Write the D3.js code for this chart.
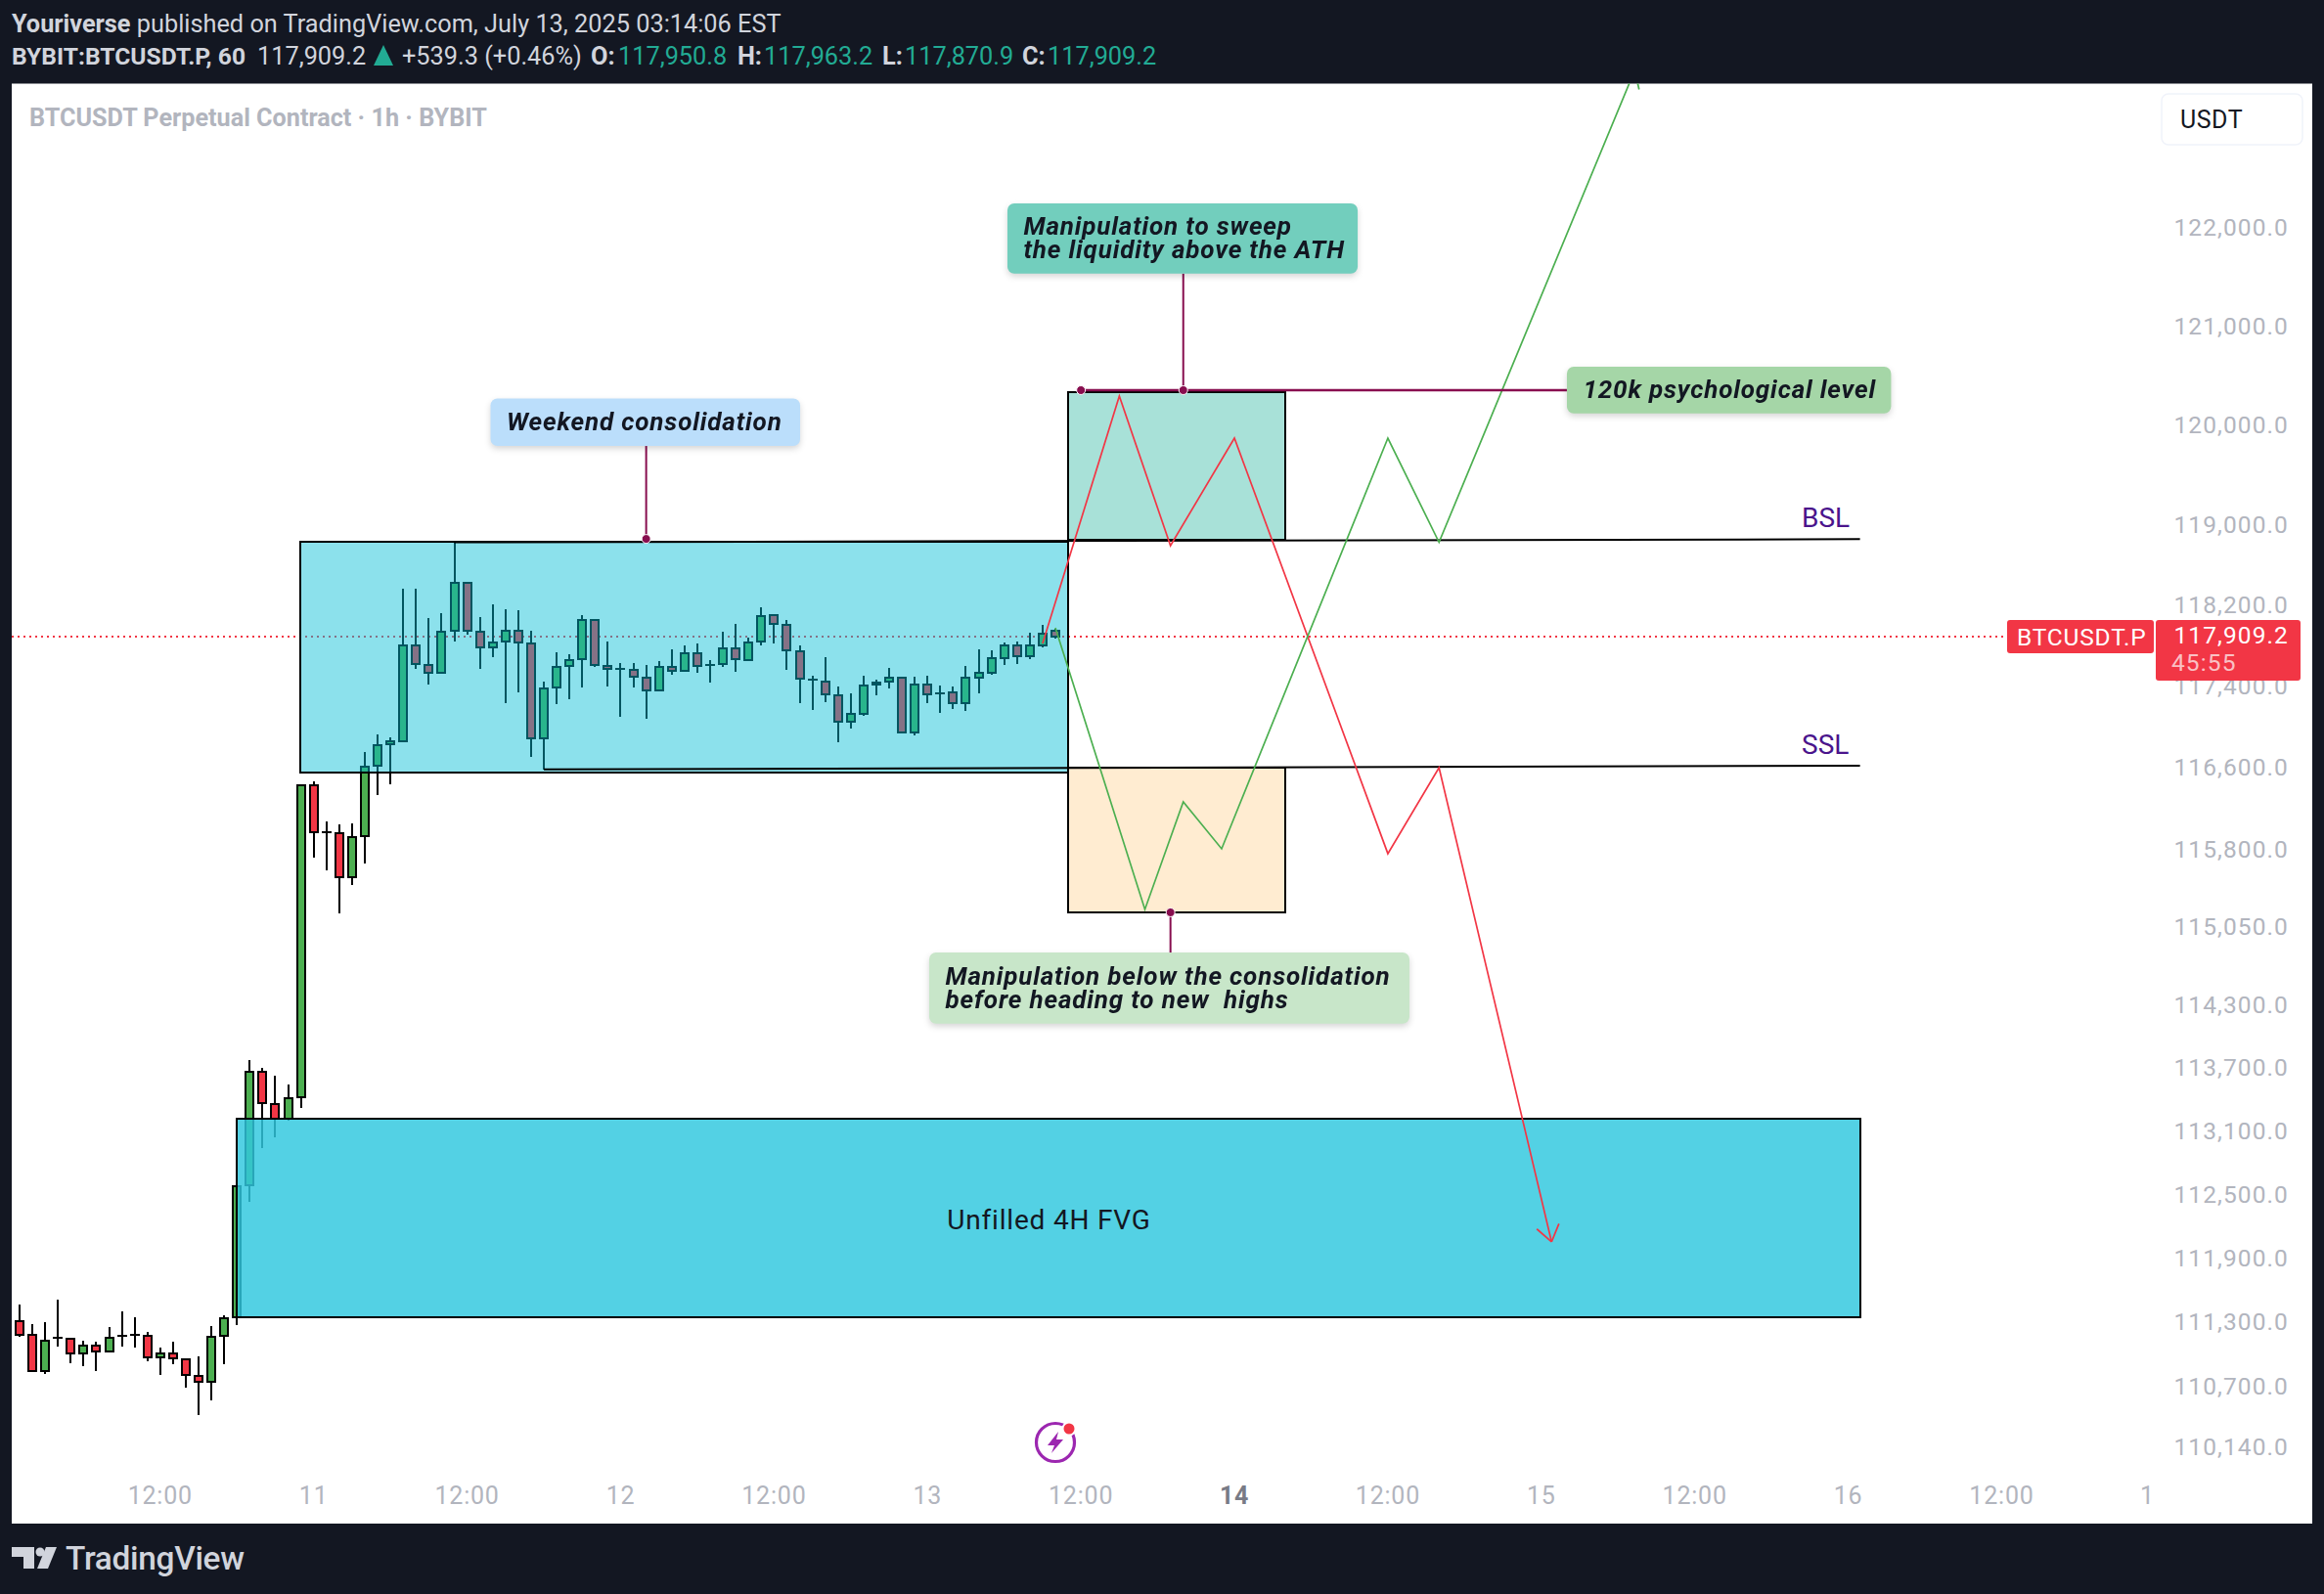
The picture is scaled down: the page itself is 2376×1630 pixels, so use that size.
<!DOCTYPE html>
<html>
<head>
<meta charset="utf-8">
<script src="https://cdn.jsdelivr.net/npm/d3@7"></script>
<style>
  html, body { margin: 0; padding: 0; background: #131722; }
  svg { display: block; font-family: Roboto, sans-serif; }
  text { white-space: pre; }
  .callout { filter: drop-shadow(0 3px 3px rgba(0,0,0,0.16)); }
</style>
</head>
<body>
<svg id="Chart" width="2376" height="1630"></svg>
<script>
// candles, one per hour, first one is hour 0
var opens = [111313,111185,110841,111155,111148,111005,111084,111024,111176,111185,111176,110969,111011,110956,110801,110741,111170,111349,112583,113665,113358,113219,113418,116429,115973,115963,115532,115932,116616,116826,116855,117803,117610,117527,117943,118423,117939,117781,117837,117949,117823,116887,117382,117596,117663,118055,117600,117569,117561,117485,117356,117592,117550,117726,117604,117614,117775,117659,117837,118098,118007,117746,117462,117446,117311,117047,117129,117411,117440,117485,116941,117417,117328,117340,117235,117485,117532,117678,117804,117692,117804,117950];
var highs = [111465,111282,111301,111511,111148,111127,111118,111255,111401,111346,111209,111063,111118,110956,110981,111264,111365,112579,113775,113700,113625,113541,116429,116462,116075,116046,116056,116752,116925,116896,118362,118362,118072,118120,118829,118423,118081,118207,118159,118149,117946,117443,117733,117714,118101,118055,117839,117627,117627,117607,117646,117762,117801,117820,117656,117936,118014,117878,118178,118098,118052,117801,117501,117685,117395,117328,117501,117462,117578,117485,117491,117501,117404,117395,117598,117762,117753,117830,117839,117926,118004,117963];
var lows = [111166,110841,110819,111075,110920,110892,110846,111024,111075,111066,110938,110810,110911,110691,110436,110573,110911,111276,112432,112940,113043,113198,113321,115726,115602,115186,115460,115669,116334,116439,116855,117569,117414,117527,117842,117910,117569,117685,117232,117337,116704,116583,117222,117270,117385,117588,117395,117098,117385,117078,117356,117511,117550,117532,117433,117588,117540,117646,117801,117820,117559,117232,117165,117241,116848,116982,117107,117308,117376,116941,116915,117232,117136,117174,117155,117328,117511,117607,117617,117666,117781,117870];
var closes = [111185,110841,111130,111155,111005,111084,111024,111157,111176,111185,110969,111011,110960,110805,110741,111166,111340,112579,113665,113362,113219,113414,116429,115967,115973,115532,115925,116612,116822,116855,117803,117619,117530,117939,118423,117943,117781,117833,117949,117830,116887,117379,117592,117659,118055,117607,117569,117569,117488,117356,117592,117550,117726,117596,117604,117775,117663,117833,118094,118011,117750,117469,117462,117315,117047,117129,117407,117436,117485,116941,117417,117315,117328,117235,117485,117532,117678,117804,117692,117804,117920,117890];

var priceTicks = [122000,121000,120000,119000,118200,117400,116600,115800,115050,114300,113700,113100,112500,111900,111300,110700,110140];
var timeTickHours = [11,23,35,47,59,71,83,95,107,119,131,143,155,166.4];
var timeTickLabels = ["12:00","11","12:00","12","12:00","13","12:00","14","12:00","15","12:00","16","12:00","1"];

var redPathHours = [80,86,90,95,107,111,119.8];
var redPathPrices = [117820,120291,118790,119867,115761,116599,112052];
var greenPathHours = [81,88,91,94,107,111,126.3];
var greenPathPrices = [117975,115221,116265,115808,119867,118824,123622];

var lastPriceLevel = 117888;

var svg = d3.select("#Chart");
var x = d3.scaleLinear().domain([0, 81]).range([20, 1079]);
var y = d3.scaleLog().domain([110140, 122000]).range([1479.7, 233]);

// ---- page and pane
svg.append("rect").attr("width", 2376).attr("height", 1630).attr("fill", "#131722");
svg.append("rect").attr("x", 12).attr("y", 85.5).attr("width", 2352).attr("height", 1472.5).attr("fill", "#fff");
svg.append("clipPath").attr("id", "pane").append("rect")
  .attr("x", 12).attr("y", 85.5).attr("width", 2352).attr("height", 1472.5);

// ---- header
var head = svg.append("g");
head.append("text").attr("x", 12).attr("y", 33).attr("font-size", 25.3).attr("fill", "#d1d4dc")
  .html('<tspan font-weight="700">Youriverse</tspan> published on TradingView.com, July 13, 2025 03:14:06 EST');
var headerBits = [
  ["BYBIT:BTCUSDT.P, 60", 12, "#d1d4dc", 700, 24.6],
  ["117,909.2", 263, "#d1d4dc", 400, 25.3],
  ["+539.3 (+0.46%)", 411, "#d1d4dc", 400, 25.3],
  ["O:", 604, "#d1d4dc", 700, 25.3], ["117,950.8", 632, "#22ab94", 400, 25.3],
  ["H:", 754, "#d1d4dc", 700, 25.3], ["117,963.2", 781, "#22ab94", 400, 25.3],
  ["L:", 902, "#d1d4dc", 700, 25.3], ["117,870.9", 925, "#22ab94", 400, 25.3],
  ["C:", 1045, "#d1d4dc", 700, 25.3], ["117,909.2", 1071, "#22ab94", 400, 25.3]
];
headerBits.forEach(function (b) {
  head.append("text").attr("x", b[1]).attr("y", 66).attr("font-size", b[4])
    .attr("fill", b[2]).attr("font-weight", b[3]).text(b[0]);
});
head.append("path").attr("d", "M392 46 L402 67 L382 67 Z").attr("fill", "#22ab94");

svg.append("text").attr("x", 30).attr("y", 129).attr("font-size", 25.2).attr("font-weight", 700)
  .attr("fill", "#b2b5be").text("BTCUSDT Perpetual Contract \u00b7 1h \u00b7 BYBIT");

// ---- price line under the boxes
svg.append("line").attr("x1", 12).attr("x2", 2050)
  .attr("y1", y(lastPriceLevel)).attr("y2", y(lastPriceLevel))
  .attr("stroke", "#f23645").attr("stroke-width", 2).attr("stroke-dasharray", "2 4");

// ---- candles
var candles = d3.range(opens.length).map(function (i) {
  return { i: i, o: opens[i], h: highs[i], l: lows[i], c: closes[i] };
});
var candleG = svg.append("g").attr("shape-rendering", "crispEdges");
candleG.selectAll("line").data(candles).join("line")
  .attr("x1", function (d) { return x(d.i); }).attr("x2", function (d) { return x(d.i); })
  .attr("y1", function (d) { return y(d.h); }).attr("y2", function (d) { return y(d.l); })
  .attr("stroke", "#000").attr("stroke-width", 2);
candleG.selectAll("rect").data(candles).join("rect")
  .attr("x", function (d) { return x(d.i) - 4; })
  .attr("width", 8)
  .attr("y", function (d) { return y(Math.max(d.o, d.c)); })
  .attr("height", function (d) { return Math.max(0.01, Math.abs(y(d.o) - y(d.c))); })
  .attr("fill", function (d) { return d.c >= d.o ? "#4caf50" : "#f23645"; })
  .attr("stroke", "#000").attr("stroke-width", 2);

// ---- boxes, drawn over the candles
var boxHours0 = [21.93, 82, 82, 17];
var boxHours1 = [82, 99, 99, 143.92];
var boxTop = [118829, 120333, 116600, 113216];
var boxBottom = [116551, 118851, 115192, 111349];
var boxFill = ["#00bcd4", "#26b49e", "#ff9800", "#30c8de"];
var boxAlpha = [0.45, 0.4, 0.18, 0.83];
var boxG = svg.append("g").attr("shape-rendering", "crispEdges");
boxTop.forEach(function (t, i) {
  boxG.append("rect")
    .attr("x", x(boxHours0[i])).attr("width", x(boxHours1[i]) - x(boxHours0[i]))
    .attr("y", y(t)).attr("height", y(boxBottom[i]) - y(t))
    .attr("fill", boxFill[i]).attr("fill-opacity", boxAlpha[i])
    .attr("stroke", "#000").attr("stroke-width", 2);
});

// BSL / SSL
var levelG = svg.append("g").attr("stroke", "#000").attr("stroke-width", 2);
levelG.append("line").attr("x1", x(34)).attr("x2", x(143.92)).attr("y1", y(118824)).attr("y2", y(118855));
levelG.append("line").attr("x1", x(41)).attr("x2", x(143.92)).attr("y1", y(116581)).attr("y2", y(116618));
svg.append("text").attr("x", 1842).attr("y", 539).attr("font-size", 28).attr("fill", "#4a148c").text("BSL");
svg.append("text").attr("x", 1842).attr("y", 771).attr("font-size", 28).attr("fill", "#4a148c").text("SSL");

svg.append("text").attr("x", x(80.5)).attr("y", y(112240)).attr("text-anchor", "middle")
  .attr("dominant-baseline", "middle").attr("font-size", 28).attr("letter-spacing", 0.8)
  .attr("fill", "#131722").text("Unfilled 4H FVG");

// ---- projected paths
var pathG = svg.append("g").attr("clip-path", "url(#pane)");
var pathLine = d3.line().x(function (d) { return x(d[0]); }).y(function (d) { return y(d[1]); });
function drawPath(hours, prices, color) {
  var pts = d3.zip(hours, prices);
  pathG.append("path").attr("d", pathLine(pts)).attr("fill", "none")
    .attr("stroke", color).attr("stroke-width", 1.7);
  var a = pts[pts.length - 2], b = pts[pts.length - 1];
  var ang = Math.atan2(y(b[1]) - y(a[1]), x(b[0]) - x(a[0]));
  [-0.62, 0.62].forEach(function (da) {
    pathG.append("line")
      .attr("x1", x(b[0])).attr("y1", y(b[1]))
      .attr("x2", x(b[0]) - 20 * Math.cos(ang + da)).attr("y2", y(b[1]) - 20 * Math.sin(ang + da))
      .attr("stroke", color).attr("stroke-width", 1.7);
  });
}
drawPath(redPathHours, redPathPrices, "#f23645");
drawPath(greenPathHours, greenPathPrices, "#4caf50");

// ---- callouts
var calloutLines = [
  ["Weekend consolidation"],
  ["Manipulation to sweep", "the liquidity above the ATH"],
  ["120k psychological level"],
  ["Manipulation below the consolidation", "before heading to new  highs"]
];
var calloutHour0 = [36.83, 77.25, 121, 71.13];
var calloutHour1 = [61.04, 104.64, 146.35, 108.69];
var calloutTop = [120266, 122250, 120587, 114805];
var calloutBottom = [119788, 121533, 120116, 114121];
var calloutFill = ["#bbdefb", "#72cebd", "#a5d6a7", "#c8e6c9"];

// connectors: hour, price from, price to
var connectorHours = [49, 91, 90];
var connectorFrom = [119788, 121533, 114805];
var connectorTo = [118858, 120350, 115192];
var connG = svg.append("g");
connectorHours.forEach(function (h, i) {
  connG.append("line").attr("x1", x(h)).attr("x2", x(h))
    .attr("y1", y(connectorFrom[i])).attr("y2", y(connectorTo[i]))
    .attr("stroke", "#880e4f").attr("stroke-width", 2);
});
connG.append("line").attr("x1", x(83)).attr("x2", x(121))
  .attr("y1", y(120350)).attr("y2", y(120350))
  .attr("stroke", "#880e4f").attr("stroke-width", 2.5);
[[49, 118858], [91, 120350], [83, 120350], [90, 115192]].forEach(function (p) {
  connG.append("circle").attr("cx", x(p[0])).attr("cy", y(p[1])).attr("r", 4.5)
    .attr("fill", "#880e4f").attr("stroke", "#fff").attr("stroke-width", 1);
});

calloutLines.forEach(function (lines, i) {
  var g = svg.append("g").attr("class", "callout");
  var x0 = x(calloutHour0[i]), x1 = x(calloutHour1[i]);
  var y0 = y(calloutTop[i]), y1 = y(calloutBottom[i]);
  g.append("rect").attr("x", x0).attr("y", y0).attr("width", x1 - x0).attr("height", y1 - y0)
    .attr("rx", 7).attr("fill", calloutFill[i]);
  var mid = (y0 + y1) / 2 + 1.5;
  lines.forEach(function (t, k) {
    g.append("text")
      .attr("x", x0 + 16.5)
      .attr("y", mid + (k - (lines.length - 1) / 2) * 24)
      .attr("dominant-baseline", "middle")
      .attr("font-size", 26).attr("font-weight", 700).attr("font-style", "italic")
      .attr("letter-spacing", 0.85).attr("fill", "#131722").text(t);
  });
});

// ---- axes
var priceAxis = d3.axisRight(y).tickValues(priceTicks).tickSize(0).tickFormat(d3.format(",.1f"));
var yAxisG = svg.append("g").attr("transform", "translate(2214,0)").call(priceAxis);
yAxisG.select(".domain").remove();
yAxisG.selectAll("text").attr("x", 126).attr("text-anchor", "end")
  .attr("font-size", 24.5).attr("letter-spacing", 1.1).attr("font-family", "Roboto")
  .attr("fill", "#b2b5be");

var timeG = svg.append("g");
timeTickHours.forEach(function (h, i) {
  var bold = timeTickLabels[i] == "14";
  timeG.append("text").attr("x", x(h)).attr("y", 1531.5).attr("text-anchor", "middle")
    .attr("dominant-baseline", "middle").attr("font-size", 25).attr("letter-spacing", 0.8)
    .attr("font-weight", bold ? 700 : 400)
    .attr("fill", bold ? "#787b86" : "#b2b5be").text(timeTickLabels[i]);
});

// ---- USDT button + last price labels
svg.append("rect").attr("x", 2210).attr("y", 96).attr("width", 144).attr("height", 52).attr("rx", 7)
  .attr("fill", "#fff").attr("stroke", "#f0f3fa").attr("stroke-width", 1.5);
svg.append("text").attr("x", 2229).attr("y", 124).attr("dominant-baseline", "middle")
  .attr("font-size", 25).attr("letter-spacing", 0.5).attr("fill", "#131722").text("USDT");

svg.append("rect").attr("x", 2052).attr("y", 634).attr("width", 150).attr("height", 34).attr("rx", 3).attr("fill", "#f23645");
svg.append("text").attr("x", 2062).attr("y", 654).attr("dominant-baseline", "middle")
  .attr("font-size", 24.5).attr("letter-spacing", 0.8).attr("fill", "#fff").text("BTCUSDT.P");
svg.append("rect").attr("x", 2204).attr("y", 634).attr("width", 148).attr("height", 62).attr("rx", 3).attr("fill", "#f23645");
svg.append("text").attr("x", 2340).attr("y", 651.5).attr("text-anchor", "end").attr("dominant-baseline", "middle")
  .attr("font-size", 24.5).attr("letter-spacing", 1.1).attr("fill", "#fff").text("117,909.2");
svg.append("text").attr("x", 2220).attr("y", 679.5).attr("dominant-baseline", "middle")
  .attr("font-size", 24.5).attr("letter-spacing", 1.1).attr("fill", "#fff").attr("fill-opacity", 0.7).text("45:55");

// ---- lightning badge
var bolt = svg.append("g").attr("transform", "translate(1079,1475)");
bolt.append("circle").attr("r", 19.5).attr("fill", "none").attr("stroke", "#9c27b0").attr("stroke-width", 3.2);
bolt.append("path").attr("d", "M3 -11 L-8 3 L-1 3 L-4 11 L8 -3 L1 -3 Z").attr("fill", "#9c27b0");
bolt.append("circle").attr("cx", 14).attr("cy", -14).attr("r", 6.5).attr("fill", "#f23645").attr("stroke", "#fff").attr("stroke-width", 2);

// ---- footer logo
var logo = svg.append("g").attr("fill", "#d1d4dc");
logo.append("path").attr("d", "M12 1582 H35 V1604 H24 V1592 H12 Z");
logo.append("circle").attr("cx", 41).attr("cy", 1587).attr("r", 4.5);
logo.append("path").attr("d", "M47 1582 H58 L49 1604 H38 Z");
logo.append("text").attr("x", 67).attr("y", 1605).attr("font-size", 33.4).attr("font-weight", 500)
  .attr("letter-spacing", -0.3).text("TradingView");
</script>
</body>
</html>
